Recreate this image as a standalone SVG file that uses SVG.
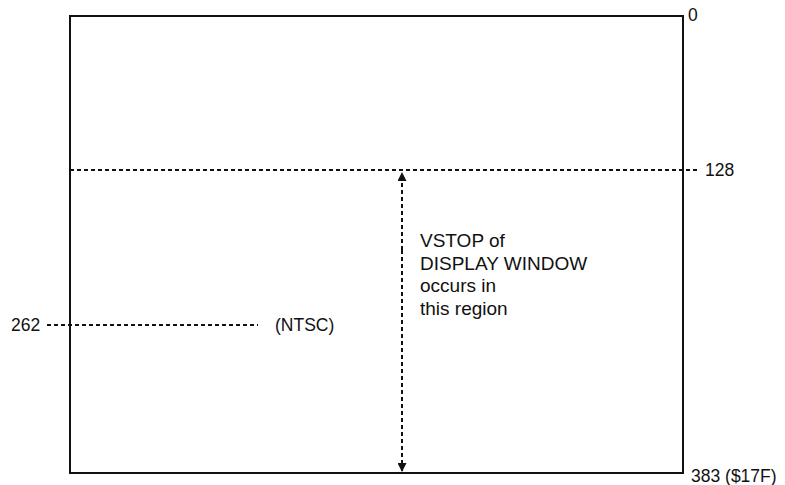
<svg xmlns="http://www.w3.org/2000/svg" width="785" height="485" viewBox="0 0 785 485">
<style>
text{font-family:"Liberation Sans",Arial,sans-serif;font-size:17.5px;fill:#111}
.blk{font-size:19px}
.dash{stroke:#111;stroke-width:2;stroke-dasharray:4 3;fill:none}
</style>
<defs>
<marker id="ah" viewBox="0 0 10 10" refX="9" refY="5" markerWidth="11" markerHeight="9" markerUnits="userSpaceOnUse" orient="auto">
<path d="M0,0 L10,5 L0,10 z" fill="#111"/>
</marker>
</defs>
<g id="frame">
<rect x="70" y="16" width="613" height="457" fill="none" stroke="#111" stroke-width="2"/>
</g>
<g id="connectors">
<line class="dash" x1="70" y1="170" x2="697" y2="170"/>
<line class="dash" x1="47" y1="325" x2="258" y2="325"/>
<line class="dash" x1="402" y1="250" x2="402" y2="173" marker-end="url(#ah)"/>
<line class="dash" x1="402" y1="250" x2="402" y2="471" marker-end="url(#ah)"/>
</g>
<g id="labels">
<text x="688" y="21">0</text>
<text x="705" y="176">128</text>
<text x="11" y="331">262</text>
<text x="275" y="331">(NTSC)</text>
<text x="691" y="482">383 ($17F)</text>
<text class="blk" x="420" y="247">VSTOP of</text>
<text class="blk" x="420" y="270">DISPLAY WINDOW</text>
<text class="blk" x="420" y="292">occurs in</text>
<text class="blk" x="420" y="315">this region</text>
</g>
</svg>
